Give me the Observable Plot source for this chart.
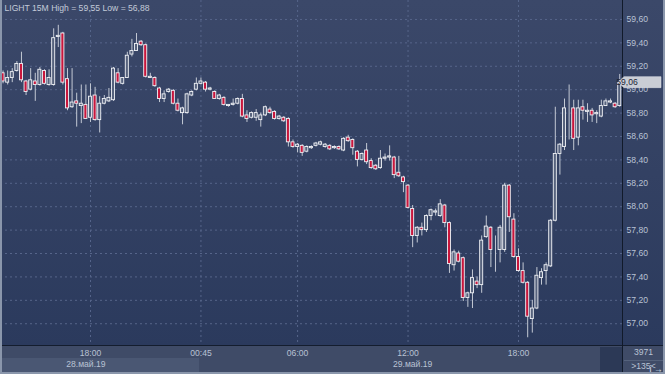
<!DOCTYPE html>
<html><head><meta charset="utf-8">
<script src="https://cdn.jsdelivr.net/npm/d3@7"></script>
<script src="https://cdn.jsdelivr.net/npm/@observablehq/plot@0.6"></script>
<style>
html,body{margin:0;padding:0;background:#2e3b5b;}
#wrap{position:relative;width:665px;height:374px;overflow:hidden;font-family:"Liberation Sans",Arial,sans-serif;}
.bg{position:absolute;left:0;top:0;width:665px;height:346px;background:linear-gradient(#3b4869,#2b3a5d);}
.band{position:absolute;left:0;top:346px;width:665px;height:28px;background:#3f4b67;}
.band2{position:absolute;left:2px;top:358px;width:197px;height:14px;background:#4a5773;}
.dark{position:absolute;left:600px;top:347px;width:22px;height:25px;background:#2c3956;}
.vline{position:absolute;left:622px;top:0;width:1px;height:372px;background:#111a2a;}
.hline{position:absolute;left:0;top:345px;width:665px;height:1px;background:#141d2e;}
.sep{position:absolute;left:624px;top:360px;width:39px;height:1px;background:#55627c;}
.frame{position:absolute;left:0;top:0;width:665px;height:374px;box-sizing:border-box;border-style:solid;border-color:#8a96ab;border-width:0 2px 2px 2px;}
#wrap svg{position:absolute;left:0;top:0;}
</style></head>
<body>
<div id="wrap">
  <div class="bg"></div><div class="band"></div><div class="band2"></div><div class="dark"></div>
  <div class="hline"></div><div class="sep"></div><div class="vline"></div>
  <div id="chart"></div>
  <div class="frame"></div>
</div>
<script>
const title = "LIGHT 15M High = 59,55 Low = 56,88";
const opens = [
59.14,59.06,59.10,59.16,59.22,59.07,59.00,59.07,59.04,59.16,
59.04,59.04,59.45,59.48,59.09,58.85,58.90,58.86,58.87,58.76,
58.95,58.74,58.88,58.90,58.91,59.14,59.05,59.10,59.30,59.33,
59.41,59.38,59.10,59.10,59.01,58.92,58.98,58.99,58.88,58.80,
58.80,58.95,59.00,59.05,59.06,59.00,58.98,58.92,58.93,58.86,
58.87,58.88,58.92,58.78,58.76,58.76,58.74,58.78,58.83,58.81,
58.75,58.76,58.75,58.55,58.51,58.52,58.47,58.50,58.52,58.53,
58.51,58.52,58.50,58.51,58.48,58.59,58.57,58.47,58.40,58.48,
58.39,58.35,58.33,58.41,58.42,58.42,58.29,58.25,58.18,57.98,
57.75,57.82,57.80,57.92,57.95,57.92,58.01,57.86,57.50,57.60,
57.56,57.22,57.26,57.36,57.33,57.74,57.82,57.63,57.63,57.63,
58.18,57.89,57.57,57.45,57.35,57.04,57.13,57.39,57.45,57.49,
57.88,58.45,58.51,58.84,58.84,58.59,58.85,58.81,58.82,58.79,
58.77,58.86,58.89,58.88,58.86];
const highs = [
59.16,59.16,59.18,59.24,59.32,59.08,59.18,59.14,59.19,59.17,
59.17,59.52,59.55,59.49,59.18,59.18,58.97,59.04,59.04,59.05,
59.02,58.94,58.95,59.01,59.19,59.18,59.10,59.32,59.43,59.48,
59.42,59.39,59.14,59.11,59.02,58.99,59.01,59.00,58.92,58.85,
58.97,58.99,59.10,59.10,59.07,59.02,58.99,58.96,58.94,58.87,
58.92,58.93,58.96,58.82,58.81,58.83,58.80,58.86,58.85,58.82,
58.78,58.77,58.76,58.57,58.54,58.53,58.52,58.52,58.55,58.56,
58.54,58.53,58.52,58.52,58.59,58.61,58.58,58.48,58.46,58.54,
58.41,58.36,58.48,58.45,58.52,58.43,58.43,58.26,58.19,58.01,
57.83,57.86,57.93,57.98,57.98,58.06,58.02,57.87,57.63,57.62,
57.57,57.27,57.46,57.40,57.75,57.92,57.83,57.75,57.84,58.20,
58.19,57.94,57.64,57.52,57.36,57.20,57.48,57.47,57.52,57.89,
58.85,58.54,58.92,59.04,58.91,58.91,58.91,58.88,58.84,58.82,
58.91,58.92,58.92,58.89,59.13];
const lows = [
59.05,59.04,59.06,59.15,59.06,58.95,58.99,58.90,59.03,59.04,
59.03,59.03,59.36,59.04,58.82,58.84,58.68,58.71,58.75,58.72,
58.73,58.63,58.87,58.89,58.90,59.05,59.04,59.10,59.28,59.33,
59.37,59.10,59.10,59.02,58.89,58.89,58.97,58.87,58.81,58.70,
58.79,58.94,58.99,59.04,58.98,58.99,58.92,58.91,58.86,58.85,
58.86,58.87,58.76,58.72,58.75,58.73,58.68,58.77,58.79,58.74,
58.74,58.72,58.51,58.50,58.46,58.43,58.46,58.49,58.51,58.52,
58.50,58.48,58.49,58.48,58.47,58.55,58.44,58.34,58.39,58.36,
58.32,58.31,58.32,58.39,58.39,58.24,58.25,58.12,57.98,57.65,
57.69,57.75,57.78,57.88,57.92,57.91,57.82,57.43,57.45,57.52,
57.19,57.14,57.13,57.30,57.26,57.73,57.48,57.44,57.52,57.61,
57.78,57.56,57.44,57.34,56.88,56.92,57.12,57.33,57.33,57.48,
57.87,58.27,58.48,58.57,58.48,58.52,58.74,58.72,58.72,58.71,
58.76,58.86,58.88,58.84,58.85];
const closes = [
59.07,59.10,59.15,59.22,59.08,58.98,59.08,59.04,59.17,59.05,
59.10,59.44,59.46,59.06,58.84,58.89,58.88,58.88,58.75,58.94,
58.74,58.88,58.92,58.93,59.18,59.06,59.10,59.29,59.33,59.39,
59.38,59.11,59.11,59.03,58.92,58.96,59.00,58.88,58.82,58.84,
58.96,58.98,59.05,59.07,59.00,59.01,58.92,58.95,58.87,58.87,
58.88,58.92,58.77,58.75,58.80,58.80,58.78,58.85,58.80,58.75,
58.77,58.73,58.55,58.51,58.53,58.46,58.51,58.51,58.54,58.55,
58.53,58.49,58.51,58.49,58.58,58.56,58.50,58.40,58.45,58.38,
58.33,58.32,58.41,58.42,58.43,58.27,58.26,58.21,57.99,57.75,
57.82,57.80,57.92,57.97,57.96,58.02,57.86,57.51,57.61,57.53,
57.22,57.26,57.39,57.33,57.71,57.83,57.63,57.63,57.82,58.18,
57.91,57.57,57.45,57.35,57.06,57.13,57.41,57.44,57.50,57.88,
58.45,58.53,58.84,58.84,58.58,58.84,58.82,58.82,58.78,58.80,
58.86,58.90,58.90,58.85,59.06];
const yTicks = [57.0,57.2,57.4,57.6,57.8,58.0,58.2,58.4,58.6,58.8,59.0,59.2,59.4,59.6];
const timeIdx = [19, 43, 64, 88, 112];
const timeLabels = ["18:00","00:45","06:00","12:00","18:00"];
const dateIdx = [18, 89];
const dateLabels = ["28.май.19","29.май.19"];
const barCount = "3971";
const barsShown = ">135<";

const data = closes.map((c, i) => ({i, o: opens[i], h: highs[i], l: lows[i], c}));
const last = closes[closes.length - 1];
const fmt = d => d.toFixed(2).replace(".", ",");
const grid = "#56658a";
const txt = "#b9c2d4";

const chart = Plot.plot({
  width: 665, height: 374,
  marginLeft: 0, marginRight: 43, marginTop: 0, marginBottom: 29,
  style: {background: "transparent", fontFamily: "Liberation Sans, Arial, sans-serif", fontSize: "8.6px", overflow: "visible"},
  x: {domain: [-0.556, 134.6]},
  y: {domain: [56.814, 59.762]},
  marks: [
    Plot.gridY(yTicks, {stroke: grid, strokeOpacity: 1, strokeDasharray: "2,3"}),
    Plot.gridX(timeIdx, {stroke: grid, strokeOpacity: 1, strokeDasharray: "2,3"}),
    Plot.ruleX(data, {x: "i", y1: "l", y2: "h", stroke: "#c3c9d4", strokeWidth: 1}),
    Plot.rect(data, {x1: d => d.i - 0.33, x2: d => d.i + 0.33, y1: "o", y2: "c",
      fill: d => d.c >= d.o ? "#56627d" : "#c8163c", stroke: "#f0f2f6", strokeWidth: 0.9}),
    Plot.axisY(yTicks, {anchor: "right", tickSize: 0, tickPadding: 4, tickFormat: fmt, fill: txt}),
    Plot.axisX(timeIdx, {anchor: "bottom", tickSize: 0, tickPadding: 4, fill: txt,
      tickFormat: d => timeLabels[timeIdx.indexOf(d)]}),
    Plot.axisX(dateIdx, {anchor: "bottom", tickSize: 0, tickPadding: 15, fill: txt,
      tickFormat: d => dateLabels[dateIdx.indexOf(d)]}),
    Plot.text([title], {frameAnchor: "top-left", dx: 4, dy: 4, fill: "#c3cad8", textAnchor: "start", lineAnchor: "top"})
  ]
});
document.getElementById("chart").appendChild(chart);

const svg = d3.select(chart);
const yp = chart.scale("y").apply(last);
const g = svg.append("g");
g.append("path")
  .attr("d", `M618,${yp} L624,${yp - 5.5} L661,${yp - 5.5} L661,${yp + 5.5} L624,${yp + 5.5} Z`)
  .attr("fill", "#c9cdd5").attr("stroke", "#e4e7ec").attr("stroke-width", 0.5);
g.append("text").attr("x", 627).attr("y", yp + 3.2).attr("fill", "#1c2538")
  .attr("font-size", "8.6px").text(fmt(last));
svg.append("text").attr("x", 643.5).attr("y", 355).attr("text-anchor", "middle")
  .attr("fill", txt).attr("font-size", "8.6px").text(barCount);
svg.append("text").attr("x", 643.5).attr("y", 368.5).attr("text-anchor", "middle")
  .attr("fill", txt).attr("font-size", "8.6px").text(barsShown);
</script>
</body></html>
